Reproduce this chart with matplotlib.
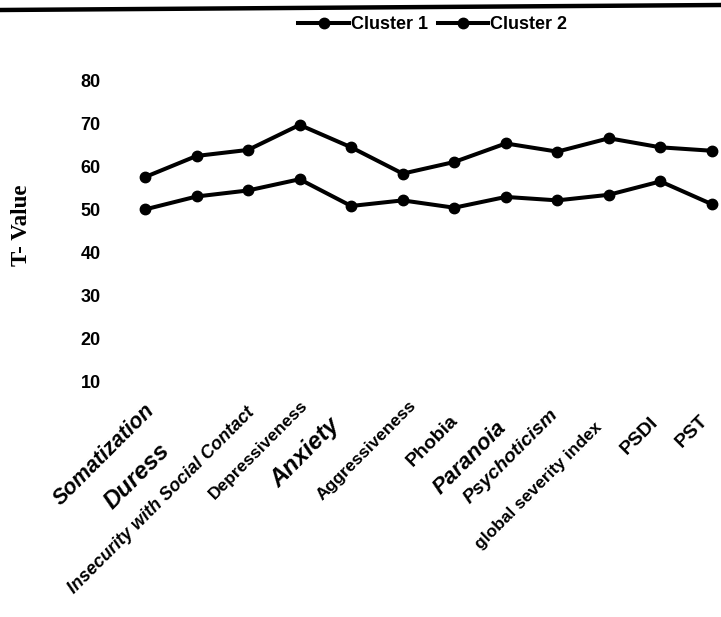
import matplotlib
matplotlib.use("Agg")
import matplotlib.pyplot as plt
from matplotlib.lines import Line2D

# Values
categories = ["Somatization", "Duress", "Insecurity with Social Contact",
              "Depressiveness", "Anxiety", "Aggressiveness", "Phobia",
              "Paranoia", "Psychoticism", "global severity index", "PSDI", "PST"]
cluster1 = [50.0, 53.0, 54.4, 57.0, 50.8, 52.1, 50.4, 52.9, 52.1, 53.4, 56.5, 51.2]
cluster2 = [57.5, 62.4, 63.8, 69.6, 64.4, 58.3, 61.0, 65.3, 63.4, 66.5, 64.4, 63.6]
yticks = [10, 20, 30, 40, 50, 60, 70, 80]

# label styling (handwritten ones in the scan are drawn in italic)
handwritten = [True, True, True, False, True, False, False, True, True, False, False, False]
label_sizes = [15.5, 17.5, 13, 12.5, 17.5, 12.5, 14, 16, 14, 12.5, 14, 14]
label_offsets = [(7, 25), (-30, 65), (4, 28), (6, 21), (-15, 40), (11, 21),
                 (1, 36), (-3, 43), (-2, 30), (-9, 43), (-5, 38), (-7, 36)]

fig = plt.figure(figsize=(7.21, 6.17), dpi=100)
ax = fig.add_axes([0.1725, 0.3809, 0.8257, 0.4894])

x = list(range(len(categories)))
ax.plot(x, cluster1, color="black", lw=2.9, marker="o", ms=7.5, label="Cluster 1")
ax.plot(x, cluster2, color="black", lw=2.9, marker="o", ms=7.5, label="Cluster 2")

ax.set_xlim(-0.4, 11.15)
ax.set_ylim(10, 80)
ax.set_yticks(yticks)
ax.set_yticklabels([str(t) for t in yticks], fontsize=13, fontweight="bold",
                   family="Liberation Sans")
ax.tick_params(axis="y", length=0, pad=17)
ax.set_xticks([])
for s in ax.spines.values():
    s.set_visible(False)

ax.set_ylabel("T- Value", fontsize=16.5, fontweight="bold", family="Liberation Serif",
              va="center")
ax.yaxis.set_label_coords(-0.172, 0.52)

for i, name in enumerate(categories):
    dx, dy = label_offsets[i]
    ax.annotate(name, xy=(i, 0), xycoords=("data", "axes fraction"),
                xytext=(dx, -dy), textcoords="offset pixels",
                rotation=45, rotation_mode="anchor", ha="right", va="center",
                fontsize=label_sizes[i], family="Liberation Sans",
                fontweight="bold",
                fontstyle="italic" if handwritten[i] else "normal")

fig.legend(loc="center", bbox_to_anchor=(0.6, 0.96), ncol=2, frameon=False,
           prop={"family": "Liberation Sans", "weight": "bold", "size": 13},
           handlelength=2.8, handletextpad=0.1, columnspacing=0.55)

# thick scan border across the top
fig.add_artist(Line2D([0, 1], [1 - 10 / 617, 1 - 5 / 617], color="black", lw=3.2,
                      transform=fig.transFigure))

fig.savefig("out.png", dpi=100)
